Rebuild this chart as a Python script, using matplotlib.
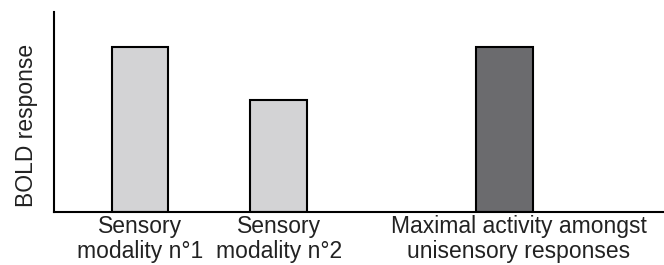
import matplotlib
matplotlib.use('Agg')
from matplotlib import pyplot as plt
import matplotlib.transforms as mtransforms

categories = ["Sensory\nmodality n°1", "Sensory\nmodality n°2",
              "Maximal activity amongst\nunisensory responses"]
values = [1.0, 0.68, 1.0]
positions = [1.0, 2.0, 3.63]
colors = ["#d3d3d5", "#d3d3d5", "#6b6b6e"]

plt.rcParams['font.family'] = ['Liberation Sans', 'DejaVu Sans']

fig = plt.figure(figsize=(6.64, 2.65), dpi=100)
ax = fig.add_axes([54 / 664, 53 / 265, 1 - 54 / 664, 200 / 265])

ax.bar(positions, values, width=0.41, color=colors, edgecolor="black", linewidth=1.5)

ax.set_xlim(0.379, 4.78)
ax.set_ylim(0, 1.212)

ax.set_xticks(positions)
ax.set_xticklabels(categories, fontsize=16.5, linespacing=1.13, color="#222222")
ax.tick_params(axis='x', length=0, pad=2)
ax.set_yticks([])
ax.set_ylabel("BOLD response", fontsize=16.5, color="#222222")
ax.yaxis.set_label_coords(-0.027, 0.435)

# third label sits a bit right of its bar
lbl = ax.get_xticklabels()[2]
lbl.set_transform(lbl.get_transform() + mtransforms.ScaledTranslation(14 / 100, 0, fig.dpi_scale_trans))

for s in ["top", "right"]:
    ax.spines[s].set_visible(False)
for s in ["left", "bottom"]:
    ax.spines[s].set_linewidth(1.5)

plt.savefig("out.png", dpi=100, facecolor='w')
plt.close()
